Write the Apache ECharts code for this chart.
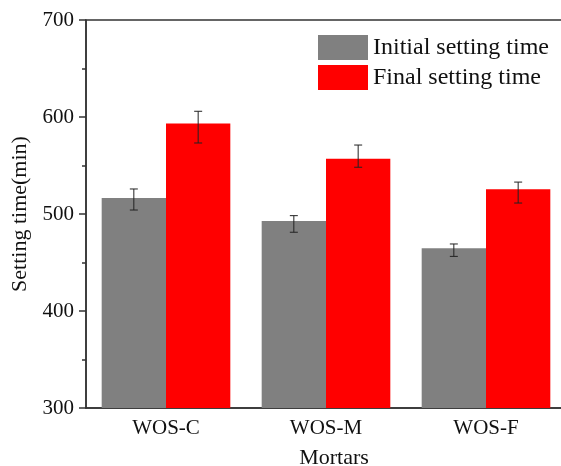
<!DOCTYPE html>
<html>
<head>
<meta charset="utf-8">
<title>Setting time</title>
<script src="https://cdn.jsdelivr.net/npm/echarts@6/dist/echarts.min.js"></script>
<style>
    html, body {margin: 0; padding: 0; background: #fff;}
    #chart {width: 561px; height: 466px;}
</style>
</head>
<body>
<div id="chart"></div>
<script>
// 数据
var categories = ['WOS-C', 'WOS-M', 'WOS-F'];
var initialTime = [516.5, 492.8, 464.6];
var initialErrUp = [9.3, 5.5, 4.5];
var initialErrDown = [12.4, 11.6, 8.3];
var finalTime = [593.2, 557, 525.4];
var finalErrUp = [12.7, 14.1, 7.5];
var finalErrDown = [20, 8.8, 14.1];
var yTicks = [300, 400, 500, 600, 700];

var FONT = '"Liberation Serif", "Times New Roman", serif';
var barGapRatio = 0.196;

// 误差棒 side: -1 左柱, 1 右柱
function errorSeries(vals, up, down, side) {
    var data = [];
    for (var i = 0; i < vals.length; i++) {
        data.push([i, vals[i] - down[i], vals[i] + up[i]]);
    }
    return {
        type: 'custom',
        z: 10,
        silent: true,
        encode: {x: 0, y: [1, 2]},
        renderItem: function (params, api) {
            var band = api.size([1, 0])[0];
            var barW = band * (1 - barGapRatio) / 2;
            var low = api.coord([api.value(0), api.value(1)]);
            var high = api.coord([api.value(0), api.value(2)]);
            var x = low[0] + side * barW / 2;
            var cap = 4;
            var style = {stroke: '#222', lineWidth: 1};
            return {
                type: 'group',
                children: [
                    {type: 'line', shape: {x1: x, y1: low[1], x2: x, y2: high[1]}, style: style},
                    {type: 'line', shape: {x1: x - cap, y1: low[1], x2: x + cap, y2: low[1]}, style: style},
                    {type: 'line', shape: {x1: x - cap, y1: high[1], x2: x + cap, y2: high[1]}, style: style}
                ]
            };
        },
        data: data
    };
}

var chart = echarts.init(document.getElementById('chart'));
var option = {
    animation: false,
    textStyle: {fontFamily: FONT},
    grid: {
        left: 86,
        top: 20,
        width: 480,
        height: 388,
        outerBoundsMode: 'none',
        show: true,
        borderColor: '#333',
        borderWidth: 1.5
    },
    legend: {
        orient: 'vertical',
        left: 318,
        top: 35,
        padding: 0,
        itemWidth: 50,
        itemHeight: 25,
        itemGap: 5,
        icon: 'rect',
        textStyle: {fontFamily: FONT, fontSize: 24, color: '#111'},
        data: ['Initial setting time', 'Final setting time']
    },
    xAxis: [{
        type: 'category',
        data: categories,
        name: 'Mortars',
        nameLocation: 'middle',
        nameGap: 39,
        nameTextStyle: {fontFamily: FONT, fontSize: 22, color: '#111', padding: [0, 0, 0, 16]},
        axisLine: {lineStyle: {color: '#333', width: 1.5}},
        axisTick: {alignWithLabel: true, length: 6, lineStyle: {color: '#333', width: 1.5}},
        axisLabel: {margin: 10, fontFamily: FONT, fontSize: 21, color: '#111'}
    }, {
        // 组间小刻度
        type: 'category',
        data: categories,
        position: 'bottom',
        axisLine: {show: false},
        axisTick: {length: 3, lineStyle: {color: '#333', width: 1.5}},
        axisLabel: {show: false}
    }],
    yAxis: {
        type: 'value',
        min: yTicks[0],
        max: yTicks[yTicks.length - 1],
        interval: 100,
        name: 'Setting time(min)',
        nameLocation: 'middle',
        nameGap: 50,
        nameTextStyle: {fontFamily: FONT, fontSize: 22, color: '#111'},
        axisLine: {show: true, lineStyle: {color: '#333', width: 1.5}},
        axisTick: {show: true, length: 7, lineStyle: {color: '#333', width: 1.5}},
        minorTick: {show: true, splitNumber: 2, length: 4, lineStyle: {color: '#333', width: 1.5}},
        splitLine: {show: false},
        axisLabel: {margin: 12, fontFamily: FONT, fontSize: 21, color: '#111'}
    },
    series: [{
        name: 'Initial setting time',
        type: 'bar',
        barGap: 0,
        barCategoryGap: (barGapRatio * 100) + '%',
        itemStyle: {color: '#808080'},
        data: initialTime
    }, {
        name: 'Final setting time',
        type: 'bar',
        barGap: 0,
        barCategoryGap: (barGapRatio * 100) + '%',
        itemStyle: {color: '#ff0000'},
        data: finalTime
    },
        errorSeries(initialTime, initialErrUp, initialErrDown, -1),
        errorSeries(finalTime, finalErrUp, finalErrDown, 1)
    ]
};
chart.setOption(option);
</script>
</body>
</html>
